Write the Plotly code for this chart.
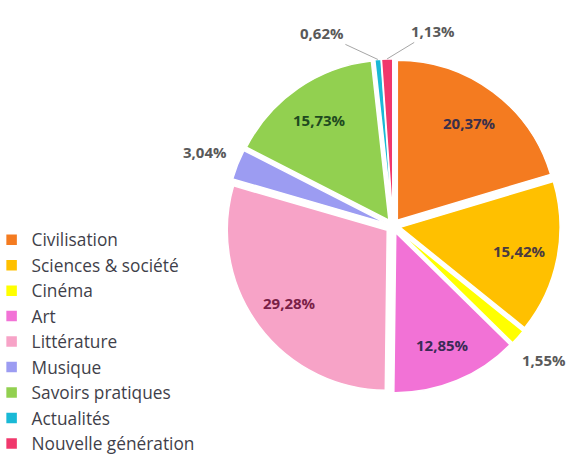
import math
import plotly.graph_objects as go

categories = ["Civilisation", "Sciences & société", "Cinéma", "Art", "Littérature",
              "Musique", "Savoirs pratiques", "Actualités", "Nouvelle génération"]
values = [20.37, 15.42, 1.55, 12.85, 29.28, 3.04, 15.73, 0.62, 1.13]
colors = ["#F47B20", "#FFC000", "#FFFF00", "#F272D6", "#F7A3C7",
          "#9C9CF2", "#92D050", "#19B9D6", "#F0386C"]
label_colors = ["#3a2f4a", "#4a3a40", "#595959", "#3a2a55", "#7a1f48",
                "#595959", "#1f4a1f", "#595959", "#595959"]
# label style per slice: inside / outside / leader (with connector line)
label_modes = ["inside", "inside", "outside", "inside", "inside",
               "outside", "inside", "leader", "leader"]
leader_offsets = {7: (-56, -26), 8: (46, -28)}

W, H = 571, 458
PULL = 0.045
DOM_X = [0.3955, 0.9811]
DOM_Y = [0.1415, 0.8716]

texts = [f"{v:.2f}%".replace(".", ",") for v in values]

fig = go.Figure(go.Pie(
    labels=categories,
    values=values,
    textinfo="none",
    sort=False,
    direction="clockwise",
    rotation=0,
    pull=PULL,
    marker=dict(colors=colors, line=dict(color="white", width=1.5)),
    domain=dict(x=DOM_X, y=DOM_Y),
    hoverinfo="label+percent",
))

# pie geometry (same rule plotly uses) to place data labels
dw = W * (DOM_X[1] - DOM_X[0])
dh = H * (DOM_Y[1] - DOM_Y[0])
r = min(dw, dh) / 2 / (1 + PULL)
cx = W * (DOM_X[0] + DOM_X[1]) / 2
cy = H * (1 - (DOM_Y[0] + DOM_Y[1]) / 2)
total = sum(values)

annotations = []
cum = 0.0
for i, v in enumerate(values):
    mid = (cum + v / 2) / total * 2 * math.pi
    cum += v
    s, c = math.sin(mid), math.cos(mid)
    mode = label_modes[i]
    if mode == "inside":
        R = 0.76 * r + PULL * r
        px, py = cx + R * s, cy - R * c
        annotations.append(dict(x=px / W, y=1 - py / H, xref="paper", yref="paper",
                                xanchor="center", yanchor="middle",
                                text=texts[i], showarrow=False,
                                font=dict(family="Open Sans", size=15, color=label_colors[i],
                                          weight="bold")))
    elif mode == "outside":
        R = 1.22 * r + PULL * r
        px, py = cx + R * s, cy - R * c
        annotations.append(dict(x=px / W, y=1 - py / H, xref="paper", yref="paper",
                                xanchor="center", yanchor="middle",
                                text=texts[i], showarrow=False,
                                font=dict(family="Open Sans", size=15, color="#595959",
                                          weight="bold")))
    else:
        R = r + PULL * r
        px, py = cx + R * s, cy - R * c
        ax, ay = leader_offsets[i]
        annotations.append(dict(x=px / W, y=1 - py / H, xref="paper", yref="paper",
                                text=texts[i], showarrow=True, arrowhead=0,
                                arrowwidth=1, arrowcolor="#A6A6A6", standoff=0,
                                ax=ax, ay=ay,
                                font=dict(family="Open Sans", size=15, color="#595959",
                                          weight="bold")))

fig.update_layout(
    width=W, height=H,
    margin=dict(l=0, r=0, t=0, b=0, autoexpand=False),
    paper_bgcolor="white",
    plot_bgcolor="white",
    font=dict(family="Open Sans", color="#404040"),
    annotations=annotations,
    legend=dict(
        x=-0.0147, y=0.5155, xanchor="left", yanchor="top",
        font=dict(family="Open Sans", size=17.3, color="#3f3f4a"),
        itemwidth=30,
        bgcolor="rgba(0,0,0,0)",
    ),
)

fig.write_html("out.html", config={"displayModeBar": False},
               post_script="document.body.style.margin='0px';")
